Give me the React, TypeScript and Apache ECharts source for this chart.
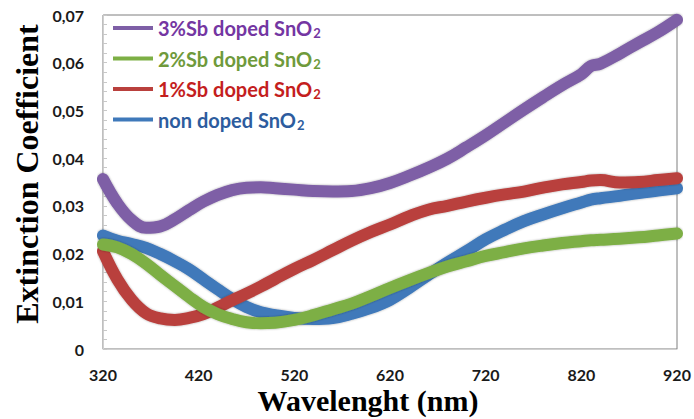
import React, { useEffect, useRef } from "react";
import * as echarts from "echarts";

const wavelengths = [320, 335, 350, 365, 380, 395, 410, 425, 440, 455, 470, 485, 500, 520, 540, 560, 580, 600, 620, 640, 660, 680, 700, 720, 740, 760, 780, 800, 820, 830, 840, 860, 880, 900, 920];

const sb3 = [0.0356, 0.0305, 0.0270, 0.0254, 0.0257, 0.0272, 0.0291, 0.0309, 0.0323, 0.0333, 0.0338, 0.0339, 0.0337, 0.0334, 0.0331, 0.0330, 0.0331, 0.0337, 0.0348, 0.0363, 0.0380, 0.0399, 0.0423, 0.0448, 0.0475, 0.0502, 0.0528, 0.0553, 0.0576, 0.0593, 0.0598, 0.0619, 0.0642, 0.0664, 0.0690];
const sb2 = [0.0219, 0.0213, 0.0199, 0.0179, 0.0155, 0.0132, 0.0109, 0.0088, 0.0073, 0.0063, 0.0056, 0.0054, 0.0055, 0.0061, 0.0071, 0.0083, 0.0095, 0.0111, 0.0128, 0.0144, 0.0159, 0.0173, 0.0184, 0.0195, 0.0203, 0.0211, 0.0217, 0.0222, 0.0226, 0.0228, 0.0229, 0.0231, 0.0234, 0.0238, 0.0242];
const sb1 = [0.0205, 0.0146, 0.0103, 0.0075, 0.0064, 0.0061, 0.0065, 0.0073, 0.0087, 0.0102, 0.0116, 0.0131, 0.0147, 0.0168, 0.0187, 0.0207, 0.0227, 0.0245, 0.0261, 0.0278, 0.0292, 0.0300, 0.0309, 0.0317, 0.0324, 0.0330, 0.0338, 0.0345, 0.0350, 0.0353, 0.0354, 0.0349, 0.0350, 0.0354, 0.0358];
const undoped = [0.0238, 0.0227, 0.0220, 0.0212, 0.0199, 0.0184, 0.0167, 0.0146, 0.0125, 0.0105, 0.0088, 0.0077, 0.0071, 0.0065, 0.0063, 0.0065, 0.0074, 0.0086, 0.0103, 0.0128, 0.0155, 0.0181, 0.0205, 0.0230, 0.0250, 0.0268, 0.0282, 0.0295, 0.0307, 0.0313, 0.0316, 0.0321, 0.0327, 0.0332, 0.0337];

const seriesNames = ["3%Sb doped SnO2", "2%Sb doped SnO2", "1%Sb doped SnO2", "non doped SnO2"];
const lineColors = ["#7E5FA6", "#7DAF45", "#B9403D", "#3F79BA"];
const textColors = ["#7436A2", "#6F9A3B", "#C41E1E", "#2D5C9E"];

const xTitle = "Wavelenght (nm)";
const yTitle = "Extinction Coefficient";

export default function App() {
  const ref = useRef<HTMLDivElement>(null);
  useEffect(() => {
    document.body.style.margin = "0";
    if (!ref.current) return;
    const chart = echarts.init(ref.current, undefined, { renderer: "svg" });
    const values = [sb3, sb2, sb1, undoped];
    const drawOrder = [3, 2, 1, 0];
    const series = drawOrder.map((i) => ({
      name: seriesNames[i],
      type: "line",
      smooth: 0.4,
      showSymbol: false,
      symbol: "circle",
      data: wavelengths.map((w, k) => [w, values[i][k]]),
      lineStyle: {
        width: 12,
        color: lineColors[i],
        cap: "round",
        join: "round",
        shadowColor: "rgba(0,0,0,0.35)",
        shadowBlur: 2,
      },
      itemStyle: { color: lineColors[i] },
      z: 2 + (3 - i),
    }));
    chart.setOption({
      animation: false,
      grid: {
        left: 103,
        right: 17,
        top: 15,
        bottom: 70,
        show: true,
        borderColor: "#7f7f7f",
        borderWidth: 1,
        backgroundColor: "#ffffff",
      },
      legend: {
        orient: "vertical",
        left: 108,
        top: 13,
        itemWidth: 40,
        itemHeight: 4,
        itemGap: 9,
        icon: "rect",
        data: seriesNames.map((n, i) => ({
          name: n,
          textStyle: {
            color: textColors[i],
            fontFamily: "Lato",
            fontWeight: "bold",
            fontSize: 20,
            rich: {
              sub: {
                color: textColors[i],
                fontFamily: "Lato",
                fontWeight: "bold",
                fontSize: 13,
                verticalAlign: "bottom",
                padding: [10, 0, 0, 1],
              },
            },
          },
        })),
        formatter: (name: string) => name.slice(0, -1) + "{sub|" + name.slice(-1) + "}",
      },
      xAxis: {
        type: "value",
        min: 320,
        max: 920,
        interval: 100,
        axisLine: { show: true, lineStyle: { color: "#d0d0d0", width: 1 } },
        axisTick: { show: false },
        splitLine: { show: false },
        axisLabel: {
          margin: 17,
          color: "#1a1a1a",
          fontFamily: "Lato",
          fontWeight: "bold",
          fontSize: 16,
        },
      },
      yAxis: {
        type: "value",
        min: 0,
        max: 0.07,
        interval: 0.01,
        axisLine: { show: true, lineStyle: { color: "#d0d0d0", width: 1 } },
        axisTick: { show: true, inside: true, length: 4, lineStyle: { color: "#c8c8c8" } },
        minorTick: { show: true, splitNumber: 5, length: 4, lineStyle: { color: "#c8c8c8" } },
        splitLine: { show: false },
        axisLabel: {
          margin: 19,
          color: "#1a1a1a",
          fontFamily: "Lato",
          fontWeight: "bold",
          fontSize: 16,
          formatter: (v: number) => (v === 0 ? "0" : v.toFixed(2).replace(".", ",")),
        },
      },
      graphic: [
        {
          type: "text",
          x: 368,
          y: 400,
          style: {
            text: xTitle,
            fontFamily: "Liberation Serif",
            fontWeight: "bold",
            fontSize: 30,
            fill: "#000",
            align: "center",
            verticalAlign: "middle",
          },
        },
        {
          type: "text",
          x: 27,
          y: 174,
          rotation: Math.PI / 2,
          style: {
            text: yTitle,
            fontFamily: "Liberation Serif",
            fontWeight: "bold",
            fontSize: 32,
            fill: "#000",
            align: "center",
            verticalAlign: "middle",
          },
        },
      ],
      series,
    });
    return () => chart.dispose();
  }, []);
  return <div ref={ref} style={{ width: 694, height: 419 }} />;
}
